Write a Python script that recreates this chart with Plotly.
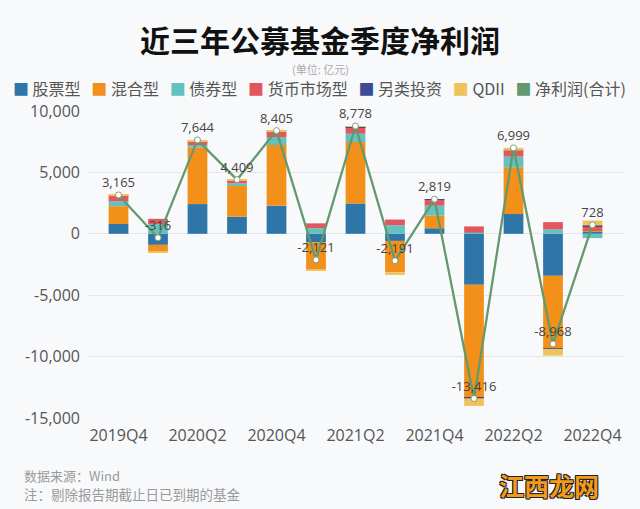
import plotly.graph_objects as go

categories = ["2019Q4", "2020Q1", "2020Q2", "2020Q3", "2020Q4", "2021Q1", "2021Q2",
              "2021Q3", "2021Q4", "2022Q1", "2022Q2", "2022Q3", "2022Q4"]
tick_labels = ["2019Q4", "2020Q2", "2020Q4", "2021Q2", "2021Q4", "2022Q2", "2022Q4"]
y_tick_vals = [-15000, -10000, -5000, 0, 5000, 10000]
y_tick_text = ["-15,000", "-10,000", "-5,000", "0", "5,000", "10,000"]

stock = [800, -900, 2420, 1390, 2280, -700, 2470, -580, 450, -4140, 1610, -3420, 180]
hybrid = [1450, -530, 4600, 2560, 4950, -2180, 5000, -2550, 1050, -9220, 3800, -5900, 48]
bond = [400, 800, 200, 150, 620, 450, 680, 700, 790, 100, 880, 350, -350]
money = [450, 420, 280, 270, 460, 400, 540, 460, 520, 500, 460, 600, 350]
other = [20, 0, 24, 9, 15, 0, 28, 0, 9, -36, 19, -48, 100]
qdii = [45, -106, 120, 30, 80, -91, 60, -221, 0, -620, 230, -550, 400]
net = [3165, -316, 7644, 4409, 8405, -2121, 8778, -2191, 2819, -13416, 6999, -8968, 728]

series_names = ["股票型", "混合型", "债券型", "货币市场型", "另类投资", "QDII"]
series_vals = [stock, hybrid, bond, money, other, qdii]
colors = ["#2e75a8", "#f39019", "#63c2bf", "#e0575f", "#3d4a94", "#eec35a"]
net_name = "净利润(合计)"
net_color = "#64996e"

CJK = "Noto Sans CJK SC"
BG = "#f8f9fb"

fig = go.Figure()
for name, vals, c in zip(series_names, series_vals, colors):
    fig.add_trace(go.Bar(x=categories, y=vals, name=name, marker_color=c,
                         marker_line_width=0, width=0.5, showlegend=False))

fig.add_trace(go.Scatter(
    x=categories, y=net, name=net_name, mode="lines+markers+text",
    line=dict(color=net_color, width=2.3),
    marker=dict(symbol="circle", size=6, color="white",
                line=dict(color="#8f9b78", width=1)),
    text=[f"{v:,}" for v in net], textposition="top center",
    textfont=dict(family="Open Sans", size=13, color="#444444"),
    showlegend=False, cliponaxis=False))

# legend as a single rich-text line
legend_items = [(n, c) for n, c in zip(series_names, colors)] + [(net_name, net_color)]
legend_html = "&nbsp;&nbsp;&nbsp;".join(
    f"<span style='color:{c}'>■</span>&nbsp;{n}" for n, c in legend_items)

H, T, B, L, R, W = 509, 111, 91, 88, 17, 640
ph = H - T - B
pw = W - L - R
def py(ypix):
    return (H - B - ypix) / ph
def px(xpix):
    return (xpix - L) / pw

def ann(text, xpix, ypix, font, **kw):
    d = dict(text=text, x=px(xpix), y=py(ypix), xref="paper", yref="paper",
             xanchor="center", yanchor="middle", showarrow=False, font=font,
             borderpad=0)
    d.update(kw)
    return d

fig.update_layout(
    width=W, height=H,
    margin=dict(l=L, r=R, t=T, b=B),
    paper_bgcolor=BG, plot_bgcolor=BG,
    barmode="relative", bargap=0.5,
    font=dict(family=CJK, color="#555555"),
    showlegend=False,
    xaxis=dict(type="category", categoryorder="array", categoryarray=categories,
               tickmode="array", tickvals=tick_labels, ticktext=tick_labels,
               showgrid=False, zeroline=False, showline=False, ticks="",
               ticklabelstandoff=6,
               tickfont=dict(family="Open Sans", size=16, color="#555555")),
    yaxis=dict(range=[-15000, 10000], tickmode="array", tickvals=y_tick_vals,
               ticktext=y_tick_text, showgrid=True, gridcolor="#e4e6ea", gridwidth=1,
               zeroline=False, showline=False, ticks="", ticklabelstandoff=7,
               tickfont=dict(family="Open Sans", size=16, color="#555555")),
    annotations=[
        ann("<b>近三年公募基金季度净利润</b>", 320, 39,
            dict(family=CJK, size=30, color="#111111")),
        ann("(单位: 亿元)", 320, 69, dict(family=CJK, size=11, color="#aaaaaa")),
        ann(legend_html, 319, 88, dict(family=CJK, size=16, color="#555555")),
        ann("数据来源：Wind", 23, 475,
            dict(family=CJK, size=13, color="#9a9a9a"), xanchor="left", align="left"),
        ann("注：剔除报告期截止日已到期的基金", 23, 494,
            dict(family=CJK, size=13.5, color="#9a9a9a"), xanchor="left", align="left"),
        ann("<b>江西龙网</b>", 549, 485,
            dict(family=CJK, size=25, color="#f29a1a",
                 shadow="-1px -1px 0 #222, 1px -1px 0 #222, -1px 1px 0 #222, 1px 1px 0 #222")),
    ],
)

fig.write_html("out.html")
